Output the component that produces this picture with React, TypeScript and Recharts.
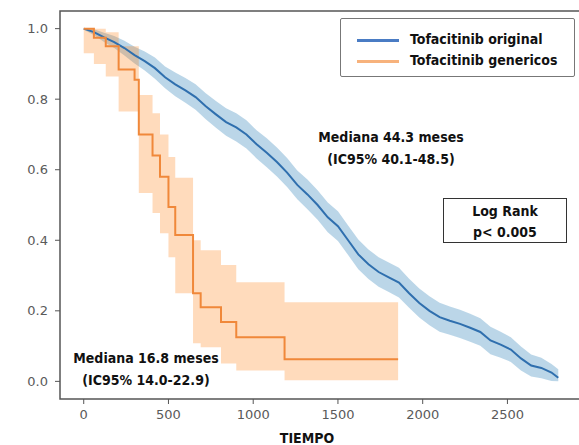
import React from 'react'
import { ComposedChart, Area, Line, XAxis, YAxis, ReferenceArea } from 'recharts'

// Kaplan-Meier: Tofacitinib original (blue)
const origT = [0, 60, 120, 180, 240, 300, 360, 420, 480, 540, 600, 660, 720, 780, 840, 900, 960, 1020, 1080, 1140, 1200, 1260, 1320, 1380, 1440, 1500, 1560, 1620, 1680, 1740, 1800, 1860, 1920, 1980, 2040, 2100, 2160, 2220, 2280, 2340, 2400, 2460, 2520, 2580, 2640, 2700, 2760, 2800]
const origS = [1.0, 0.99, 0.975, 0.962, 0.945, 0.925, 0.908, 0.888, 0.862, 0.842, 0.825, 0.806, 0.78, 0.757, 0.735, 0.72, 0.7, 0.672, 0.648, 0.622, 0.592, 0.557, 0.53, 0.5, 0.465, 0.44, 0.4, 0.36, 0.332, 0.31, 0.295, 0.28, 0.25, 0.222, 0.2, 0.182, 0.172, 0.163, 0.152, 0.14, 0.116, 0.104, 0.09, 0.065, 0.045, 0.038, 0.025, 0.01]
const origLo = [0.997, 0.982, 0.962, 0.945, 0.924, 0.901, 0.881, 0.858, 0.831, 0.808, 0.79, 0.77, 0.743, 0.719, 0.696, 0.68, 0.66, 0.632, 0.607, 0.581, 0.551, 0.516, 0.488, 0.458, 0.423, 0.398, 0.358, 0.318, 0.29, 0.268, 0.253, 0.238, 0.209, 0.181, 0.159, 0.141, 0.132, 0.123, 0.112, 0.101, 0.077, 0.067, 0.055, 0.031, 0.014, 0.009, 0.001, 0.0]
const origHi = [1.0, 0.998, 0.988, 0.979, 0.966, 0.949, 0.935, 0.918, 0.893, 0.876, 0.86, 0.842, 0.817, 0.795, 0.774, 0.76, 0.74, 0.712, 0.689, 0.663, 0.633, 0.598, 0.572, 0.542, 0.507, 0.482, 0.442, 0.402, 0.374, 0.352, 0.337, 0.322, 0.291, 0.263, 0.241, 0.223, 0.212, 0.203, 0.192, 0.179, 0.155, 0.141, 0.125, 0.099, 0.076, 0.067, 0.049, 0.034]

// Kaplan-Meier: Tofacitinib genericos (orange)
const genT = [0, 60, 130, 206, 300, 325, 406, 450, 500, 540, 645, 690, 810, 900, 1185, 1855]
const genS = [1.0, 0.974, 0.95, 0.884, 0.855, 0.7, 0.64, 0.58, 0.494, 0.415, 0.25, 0.21, 0.168, 0.125, 0.0625, 0.0625]
const genLo = [0.93, 0.9, 0.864, 0.765, 0.765, 0.534, 0.477, 0.42, 0.352, 0.25, 0.108, 0.097, 0.051, 0.031, 0.003, 0.003]
const genHi = [1.0, 1.0, 0.99, 0.95, 0.95, 0.812, 0.76, 0.7, 0.636, 0.577, 0.4, 0.372, 0.33, 0.281, 0.224, 0.224]

const xTicks = [0, 500, 1000, 1500, 2000, 2500]
const yTicks = [0, 0.2, 0.4, 0.6, 0.8, 1.0]

const origData = origT.map((t, i) => ({ t, s: origS[i], band: [origLo[i], origHi[i]] }))
const genData = genT.map((t, i) => ({ t, s: genS[i], band: [genLo[i], genHi[i]] }))

const BLUE = '#2f6fae'
const ORANGE = '#f0883a'
const tickStyle = { fontFamily: 'DejaVu Sans, sans-serif', fontSize: 13, fill: '#5a5a5a' }
const noteFont: React.CSSProperties = {
  position: 'absolute',
  fontFamily: '"DejaVu Sans Condensed", "Liberation Sans Narrow", sans-serif',
  fontWeight: 'bold',
  fontSize: 14,
  color: '#111',
  whiteSpace: 'nowrap',
}

export default function App() {
  return (
    <div style={{ position: 'absolute', left: 0, top: 0, width: 579, height: 445, overflow: 'hidden', background: '#fff' }}>
      <ComposedChart width={583} height={445} margin={{ top: 11, right: 1, bottom: 0, left: 0 }}>
        <XAxis
          type="number"
          dataKey="t"
          domain={[-140, 2940]}
          ticks={xTicks}
          allowDataOverflow
          height={46}
          tickSize={5}
          tickMargin={6}
          tick={tickStyle}
          axisLine={false}
          tickLine={{ stroke: '#555' }}
          label={{
            value: 'TIEMPO',
            position: 'insideBottom',
            offset: 2,
            dx: -14,
            style: { fontFamily: '"DejaVu Sans Condensed", "Liberation Sans Narrow", sans-serif', fontWeight: 'bold', fontSize: 14, fill: '#111' },
          }}
        />
        <YAxis
          type="number"
          domain={[-0.05, 1.05]}
          ticks={yTicks}
          allowDataOverflow
          width={60}
          tickSize={5}
          tickMargin={7}
          tick={tickStyle}
          axisLine={false}
          tickLine={{ stroke: '#555' }}
          tickFormatter={(v: number) => v.toFixed(1)}
        />
        <ReferenceArea x1={-140} x2={2940} y1={-0.05} y2={1.05} fill="none" stroke="#555" strokeWidth={1.5} />
        <Area data={origData} dataKey="band" type="linear" stroke="none" fill="#1f77b4" fillOpacity={0.3} isAnimationActive={false} />
        <Area data={genData} dataKey="band" type="stepAfter" stroke="none" fill="#ff7f0e" fillOpacity={0.28} isAnimationActive={false} />
        <Line data={origData} dataKey="s" type="linear" stroke={BLUE} strokeWidth={2} dot={false} isAnimationActive={false} />
        <Line data={genData} dataKey="s" type="stepAfter" stroke={ORANGE} strokeWidth={2} dot={false} isAnimationActive={false} />
      </ComposedChart>

      {/* legend */}
      <div style={{ position: 'absolute', left: 340, top: 18, width: 233, height: 57, border: '1px solid #777', borderRadius: 2, background: '#fff' }}>
        <div style={{ position: 'absolute', left: 16, top: 20, width: 42, height: 2.5, background: '#4a7cc4' }} />
        <div style={{ position: 'absolute', left: 16, top: 41, width: 42, height: 2.5, background: '#f7b27c' }} />
        <div style={{ ...noteFont, left: 69, top: 10, lineHeight: '21px' }}>
          Tofacitinib original<br />Tofacitinib genericos
        </div>
      </div>

      <div style={{ ...noteFont, left: 291, top: 126, width: 200, textAlign: 'center', lineHeight: '22px' }}>
        Mediana 44.3 meses<br />(IC95% 40.1-48.5)
      </div>

      <div style={{ position: 'absolute', left: 443, top: 198, width: 122, height: 43, border: '1.5px solid #333', background: '#fff' }}>
        <div style={{ ...noteFont, left: 0, top: 2, width: 122, textAlign: 'center', lineHeight: '21px' }}>
          Log Rank<br />p&lt; 0.005
        </div>
      </div>

      <div style={{ ...noteFont, left: 46, top: 347, width: 200, textAlign: 'center', lineHeight: '22px' }}>
        Mediana 16.8 meses<br />(IC95% 14.0-22.9)
      </div>
    </div>
  )
}
